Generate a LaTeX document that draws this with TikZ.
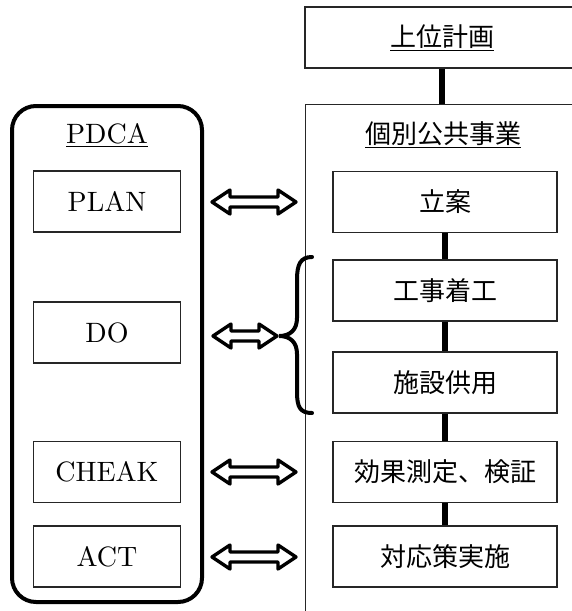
\documentclass[tikz,border=0pt]{standalone}
\usepackage{fontspec}
\setmainfont{lmroman10-regular}[Extension=.otf]
\newfontfamily\jp{Noto Sans CJK JP}
\tikzset{
  dblarr/.pic={
    \draw[line width=3.4pt, line join=round, fill=white]
      (-#1,0) -- (-#1+18,-12) -- (-#1+18,-5) -- (#1-18,-5) -- (#1-18,-12)
      -- (#1,0) -- (#1-18,12) -- (#1-18,5) -- (-#1+18,5) -- (-#1+18,12) -- cycle;
  }
}
\begin{document}
\begin{tikzpicture}[x=1pt,y=-1pt,
  lat/.style={font=\fontsize{28}{32}\selectfont},
  jap/.style={font=\fontsize{26}{30}\selectfont\jp},
  box/.style={draw=black!85, line width=1.1pt, fill=white, minimum width=147pt,
              minimum height=61pt, inner sep=0pt, lat},
  rbox/.style={draw=black!85, line width=1.1pt, fill=white, minimum width=224pt,
              minimum height=61pt, inner sep=0pt, jap},
  conn/.style={line width=6pt},
  frame/.style={draw, line width=4pt, rounded corners=24pt, inner sep=0pt}
]
\useasboundingbox (0,0) rectangle (572,611);
\fill[white] (0,0) rectangle (572,611);
\begin{scope}
\clip (0,0) rectangle (572,611);
% right panel
\node[draw=black!85, line width=0.9pt, fill=white, minimum width=300pt, minimum height=560pt,
      anchor=north west, inner sep=0pt] (panel) at (305,104) {};
\node[draw=black!85, line width=1.1pt, fill=white, minimum width=274pt, minimum height=61pt,
      inner sep=0pt, jap] (upper) at (442,37.5) {\underline{上位計画}};
\draw[conn] (upper.south) -- (upper.south |- panel.north);
\node[jap] (rttl) at (443,135) {\underline{個別公共事業}};
% right boxes
\node[rbox] (r1) at (445,202) {立案};
\node[rbox] (r2) at (445,290.5) {工事着工};
\node[rbox] (r3) at (445,382.5) {施設供用};
\node[rbox] (r4) at (445,472) {効果測定、検証};
\node[rbox] (r5) at (445,556.5) {対応策実施};
\draw[conn] (r1.south) -- (r2.north);
\draw[conn] (r2.south) -- (r3.north);
\draw[conn] (r3.south) -- (r4.north);
\draw[conn] (r4.south) -- (r5.north);
% left frame
\node[frame, minimum width=190pt, minimum height=496pt] (pdca) at (107,354) {};
\node[lat] (lttl) at (107,135) {\underline{PDCA}};
\node[box] (plan) at (107,201.5) {PLAN};
\node[box] (do) at (107,332.5) {DO};
\node[box] (check) at (107,472) {CHEAK};
\node[box] (act) at (107,556.5) {ACT};
% double arrows
\pic at (254,202) {dblarr=42};
\pic at (245,336) {dblarr=32};
\pic at (254,472) {dblarr=42};
\pic at (254,557) {dblarr=42};
% brace
\coordinate (bt) at (312,257);
\coordinate (bb) at (312,413);
\draw[line width=4pt, line cap=round]
  (bt) .. controls (300,257) and (297,265) .. (297,280) -- (297,318)
  .. controls (297,330) and (290,336) .. (279,336)
  .. controls (290,336) and (297,342) .. (297,354) -- (297,392)
  .. controls (297,407) and (300,413) .. (bb);
\end{scope}
\end{tikzpicture}
\end{document}
